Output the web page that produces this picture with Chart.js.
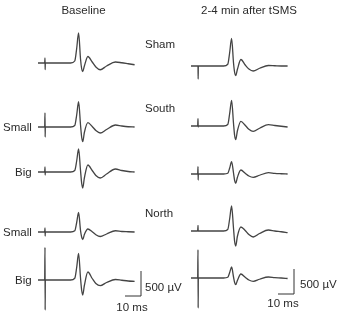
<!DOCTYPE html>
<html>
<head>
<meta charset="utf-8">
<script src="https://cdn.jsdelivr.net/npm/chart.js@4.4.1/dist/chart.umd.min.js"></script>
<style>
  html, body { margin: 0; padding: 0; background: #fff; }
  #fig { position: relative; width: 340px; height: 314px; overflow: hidden; }
  #fig canvas { position: absolute; }
  .lbl { position: absolute; font-family: "Liberation Sans", Arial, sans-serif; font-size: 11.5px;
         line-height: 12px; color: #2a2a2a; white-space: nowrap; }
</style>
</head>
<body>
<div id="fig"></div>
<script>
// sample times (ms, stimulus at 0)
const timeMs = [-4.4, -0.2, 0, 0.1, 0.2, 8, 16, 18.6, 19.8, 21, 22.2, 22.9, 23.6, 24.6, 26.8, 29.5, 31.8, 34.5, 38.5, 44, 48, 52, 56];

// baseline column (µV)
const baseSham       = [0, 0, 100, -133, 0, 0, 0, 40, 290, 600, 80, -110, -170, -60, 130, 20, -80, -135, -60, 20, 5, -15, -35];
const baseSouthSmall = [0, 0, 280, -200, 0, 0, 0, 30, 240, 506, 40, -200, -294, -110, 86, 10, -70, -120, -50, 40, 20, 5, 0];
const baseSouthBig   = [0, 0, 100, -60, 0, 0, 0, 30, 220, 460, 30, -220, -320, -120, 140, 30, -70, -120, -40, 60, 30, 10, 0];
const baseNorthSmall = [0, 0, 80, -80, 0, 0, 0, 25, 190, 390, 30, -100, -150, -50, 60, 5, -55, -90, -40, 25, 10, 5, 0];
const baseNorthBig   = [0, 0, 650, -600, 0, 0, 0, 35, 250, 530, 40, -200, -300, -110, 160, 30, -70, -113, -50, 10, -5, -20, -27];

// 2-4 min after tSMS column (µV)
const afterSham       = [0, 0, 0, -260, 0, 0, 0, 35, 270, 550, 60, -130, -190, -70, 130, 20, -60, -100, -45, 10, 5, 0, 0];
const afterSouthSmall = [0, 0, 147, -20, 0, 0, 0, 30, 250, 513, 50, -190, -273, -100, 93, 15, -65, -107, -45, 27, 10, -5, -20];
const afterSouthBig   = [0, 0, 147, -120, 0, 0, 0, 15, 120, 246, 20, -130, -186, -70, 80, 15, -40, -66, -25, 26, 12, 5, 0];
const afterNorthSmall = [0, 0, 113, 0, 0, 0, 0, 30, 245, 500, 50, -210, -300, -110, 80, 10, -70, -120, -50, 20, 0, -15, -33];
const afterNorthBig   = [0, 0, 567, -600, 0, 0, 0, 15, 110, 220, 20, -90, -133, -50, 80, 15, -40, -67, -25, 20, 8, 0, -10];

// calibration bars
const scaleBarMs = 10;
const scaleBarUv = 500;
const scaleBarCorner = [60, -320]; // ms, µV

const X_MIN = -5, X_MAX = 63.125, Y_MIN = -660, Y_MAX = 740;
const W = 109, H = 70;
const fig = document.getElementById('fig');

function trace(values, left, top, withBar) {
    const c = document.createElement('canvas');
    c.width = W; c.height = H;
    c.style.left = left + 'px';
    c.style.top = top + 'px';
    fig.appendChild(c);

    const datasets = [{
        data: timeMs.map((t, i) => ({ x: t, y: values[i] })),
        borderColor: '#444',
        borderWidth: 1.3,
        cubicInterpolationMode: 'monotone',
        pointRadius: 0
    }];
    if (withBar) {
        const [cx, cy] = scaleBarCorner;
        datasets.push({
            data: [{ x: cx - scaleBarMs, y: cy }, { x: cx, y: cy }, { x: cx, y: cy + scaleBarUv }],
            borderColor: '#333',
            borderWidth: 1,
            tension: 0,
            pointRadius: 0
        });
    }

    new Chart(c.getContext('2d'), {
        type: 'line',
        data: { datasets: datasets },
        options: {
            responsive: false,
            animation: false,
            layout: { padding: 0 },
            plugins: { legend: { display: false }, tooltip: { enabled: false } },
            scales: {
                x: { type: 'linear', display: false, min: X_MIN, max: X_MAX },
                y: { display: false, min: Y_MIN, max: Y_MAX }
            }
        }
    });
}

function label(text, x, y, align) {
    const d = document.createElement('div');
    d.className = 'lbl';
    d.textContent = text;
    d.style.top = (y - 6) + 'px';
    d.style.left = x + 'px';
    if (align === 'center') d.style.transform = 'translateX(-50%)';
    fig.appendChild(d);
}

trace(baseSham, 37, 26);
trace(baseSouthSmall, 37, 90);
trace(baseSouthBig, 37, 135);
trace(baseNorthSmall, 37, 195);
trace(baseNorthBig, 37, 243, true);

trace(afterSham, 190, 29);
trace(afterSouthSmall, 190, 89);
trace(afterSouthBig, 190, 137);
trace(afterNorthSmall, 190, 194);
trace(afterNorthBig, 190, 241, true);

label('Baseline', 83.5, 10, 'center');
label('2-4 min after tSMS', 249, 10, 'center');
label('Sham', 145, 44);
label('South', 145, 108);
label('North', 145, 213);
label('Small', 3, 126.5);
label('Big', 15, 171.5);
label('Small', 3, 232);
label('Big', 15, 280);
label('500 \u00b5V', 145, 287);
label('10 ms', 132, 306.5, 'center');
label('500 \u00b5V', 300, 283.5);
label('10 ms', 283, 302.5, 'center');
</script>
</body>
</html>
